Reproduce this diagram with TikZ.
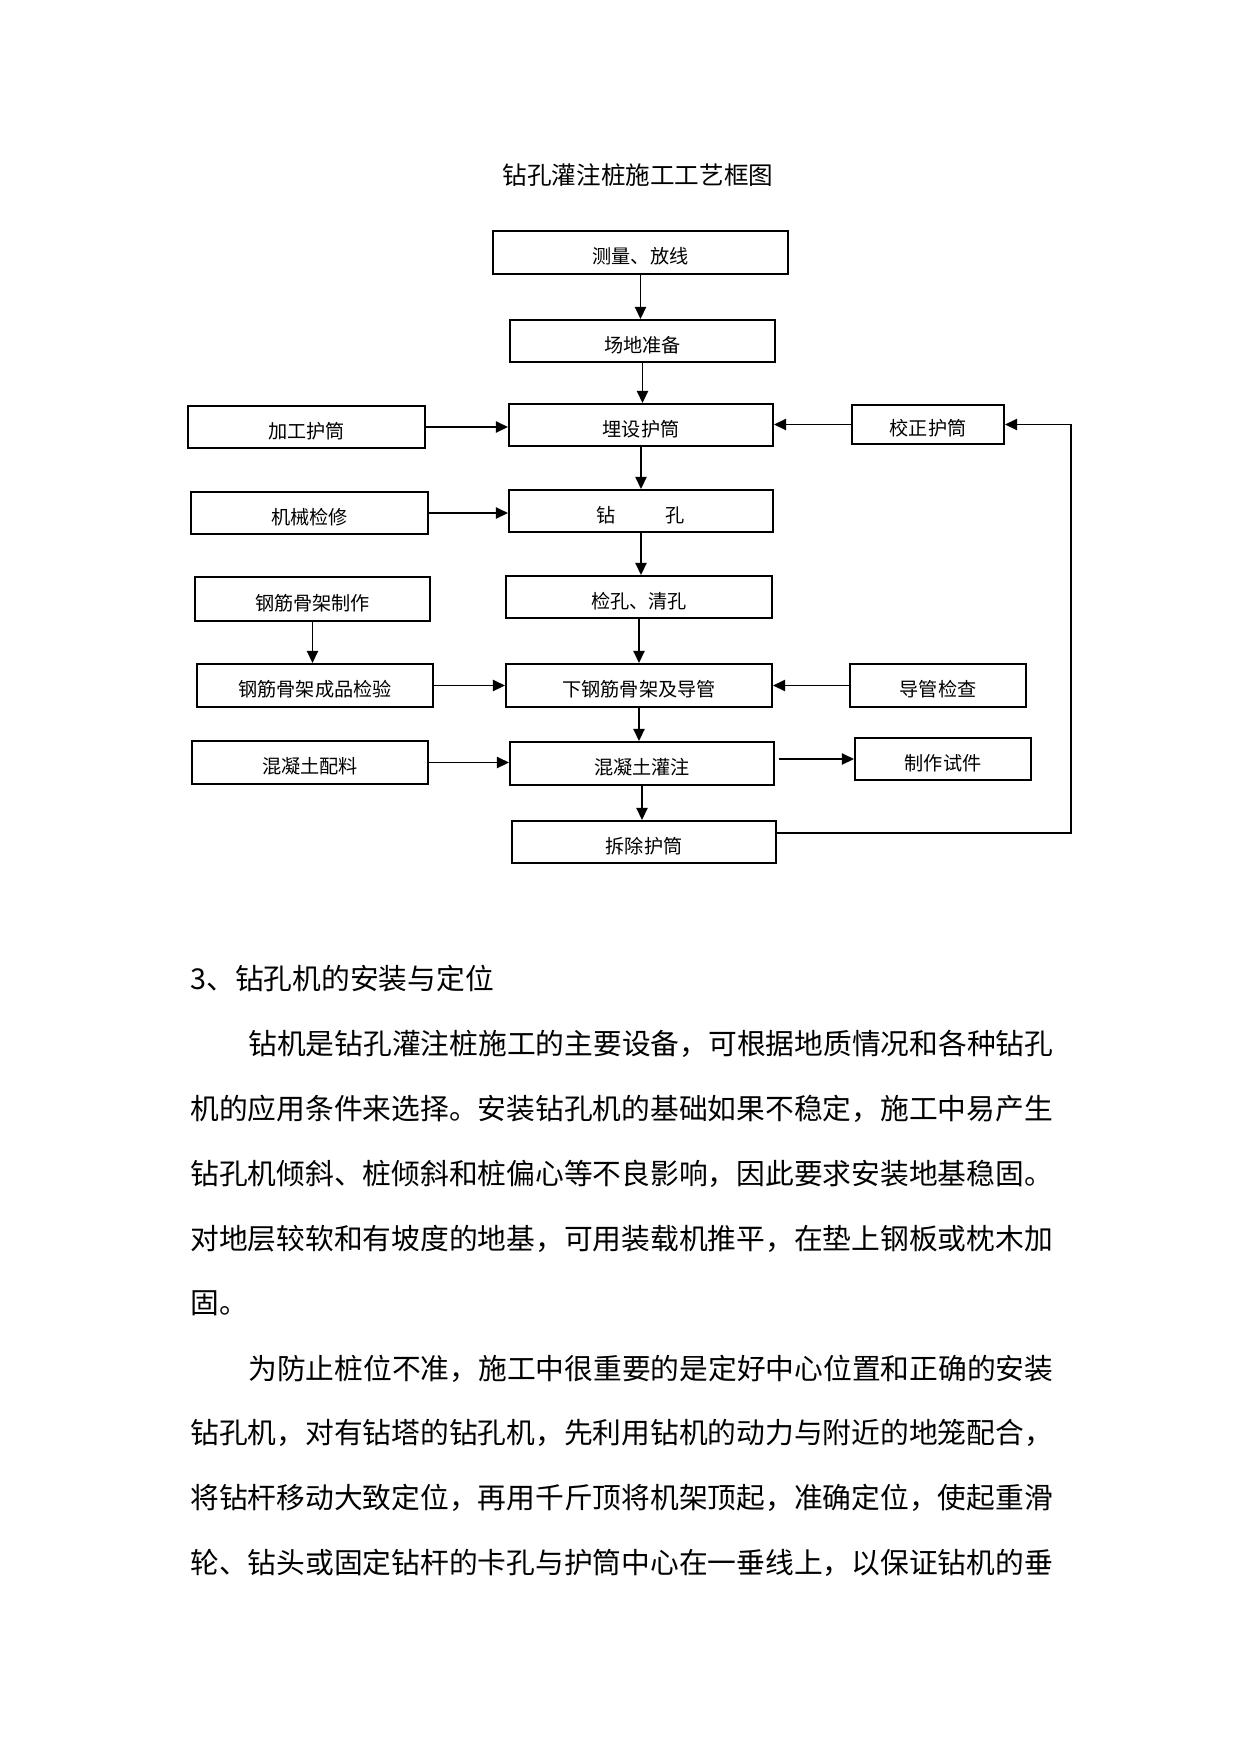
\documentclass[tikz,border=0pt]{standalone}
\usepackage{fontspec}
\setmainfont{Noto Sans CJK SC}
\usetikzlibrary{arrows.meta}
\tikzset{
  box/.style={draw, line width=1pt, rectangle, inner sep=0pt, text height=1.2em, text depth=0.12em,
    font=\fontsize{9.2}{11}\selectfont},
  wh/.style 2 args={minimum width=#1*0.48pt, minimum height=#2*0.48pt},
  arr/.style={-{Triangle[length=5.8pt,width=5.4pt]}, line width=0.8pt},
  para/.style={anchor=west, inner sep=0pt, font=\fontsize{13.8}{17}\selectfont}
}
\begin{document}
\begin{tikzpicture}[x=0.48pt,y=-0.48pt]
\useasboundingbox (0,0) rectangle (1240,1753);

\node[inner sep=0pt,font=\fontsize{11.8}{14}\selectfont] (title) at (638,175) {钻孔灌注桩施工工艺框图};

%%%%%%%%%%%%%%%%%%%%%%%%%%%%%%%%%%%%%%%%%%%%
\node[box,wh={295}{43}] (meas)   at (640.5,252.5) {测量、放线};
\node[box,wh={265}{42}] (site)   at (642.5,341)   {场地准备};
\node[box,wh={264}{42}] (bury)   at (641,425)     {埋设护筒};
\node[box,wh={264}{42}] (drill)  at (641,511)     {钻\hspace{2.6em}孔};
\node[box,wh={266}{42}] (clean)  at (639,597)     {检孔、清孔};
\node[box,wh={266}{43}] (lower)  at (639,685.5)   {下钢筋骨架及导管};
\node[box,wh={264}{43}] (pour)   at (642,763.5)   {混凝土灌注};
\node[box,wh={264}{42}] (remove) at (644,842)     {拆除护筒};

\node[box,wh={237}{42}] (make)   at (306.5,427)   {加工护筒};
\node[box,wh={237}{42}] (mech)   at (309.5,513)   {机械检修};
\node[box,wh={235}{44}] (cage)   at (312.5,599)   {钢筋骨架制作};
\node[box,wh={236}{43}] (check)  at (315,685.5)   {钢筋骨架成品检验};
\node[box,wh={236}{43}] (mix)    at (310,762.5)   {混凝土配料};

\node[box,wh={152}{39}] (corr)   at (928,424.5)   {校正护筒};
\node[box,wh={176}{43}] (pipe)   at (938,685.5)   {导管检查};
\node[box,wh={176}{42}] (spec)   at (943,759)     {制作试件};

\coordinate (turn) at (1071,833);

%%%%%%%%%%%%%%%%%%%%%%%%%%%%%%%%%%%%%%%%%%%%
\draw[arr] (meas.south)  -- (meas.south |- site.north);
\draw[arr] (site.south)  -- (site.south |- bury.north);
\draw[arr] (bury.south)  -- (bury.south |- drill.north);
\draw[arr] (drill.south) -- (drill.south |- clean.north);
\draw[arr] (clean.south) -- (clean.south |- lower.north);
\draw[arr] (lower.south) -- (lower.south |- pour.north);
\draw[arr] (pour.south)  -- (pour.south |- remove.north);

\draw[arr] (make.east)  -- (make.east -| bury.west);
\draw[arr] (mech.east)  -- (mech.east -| drill.west);
\draw[arr] (cage.south) -- (cage.south |- check.north);
\draw[arr] (check.east) -- (check.east -| lower.west);
\draw[arr] (mix.east)   -- (mix.east -| pour.west);

\draw[arr] (corr.west)  -- (corr.west -| bury.east);
\draw[arr] (pipe.west)  -- (pipe.west -| lower.east);
\draw[arr] ([xshift=2pt]pour.east |- spec.west) -- (spec.west);
\draw[arr] (remove.east |- turn) -- (turn) |- (corr.east);

%%%%%%%%%%%%%%%%%%%%%%%%%%%%%%%%%%%%%%%%%%%%
\node[para] (h3) at (190,979)  {3、钻孔机的安装与定位};
\node[para] (p1) at (248,1044) {钻机是钻孔灌注桩施工的主要设备，可根据地质情况和各种钻孔};
\node[para] (p2) at (190,1109) {机的应用条件来选择。安装钻孔机的基础如果不稳定，施工中易产生};
\node[para] (p3) at (190,1174) {钻孔机倾斜、桩倾斜和桩偏心等不良影响，因此要求安装地基稳固。};
\node[para] (p4) at (190,1239) {对地层较软和有坡度的地基，可用装载机推平，在垫上钢板或枕木加};
\node[para] (p5) at (190,1303) {固。};
\node[para] (q1) at (248,1369) {为防止桩位不准，施工中很重要的是定好中心位置和正确的安装};
\node[para] (q2) at (190,1433) {钻孔机，对有钻塔的钻孔机，先利用钻机的动力与附近的地笼配合，};
\node[para] (q3) at (190,1498) {将钻杆移动大致定位，再用千斤顶将机架顶起，准确定位，使起重滑};
\node[para] (q4) at (190,1563) {轮、钻头或固定钻杆的卡孔与护筒中心在一垂线上，以保证钻机的垂};

\end{tikzpicture}
\end{document}
